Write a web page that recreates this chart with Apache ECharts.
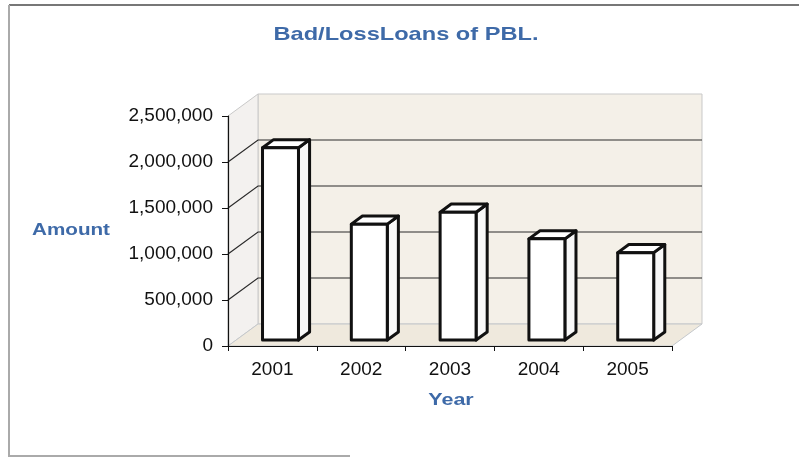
<!DOCTYPE html>
<html>
<head>
<meta charset="utf-8">
<title>Bad/LossLoans of PBL</title>
<script src="https://cdn.jsdelivr.net/npm/echarts@6/dist/echarts.min.js"></script>
<style>
  html, body { margin: 0; padding: 0; background: #ffffff; }
  #chart { width: 799px; height: 457px; }
</style>
</head>
<body>
<div id="chart"></div>
<script>
// Bad / loss loans per year
const years = ['2001', '2002', '2003', '2004', '2005'];
const amounts = [2090000, 1260000, 1390000, 1100000, 950000];

// Value axis range
const yMin = 0;
const yMax = 2500000;
const yStep = 500000;

// Depth of the 3D box (pixel offset of the back plane) and bar placement in depth
const DX = 30, DY = -22;
const F1 = 0.27, F2 = 0.64;
const BAR_RATIO = 0.405;

const chart = echarts.init(document.getElementById('chart'), null, { renderer: 'canvas' });

function wallsRender(params, api) {
  const cs = params.coordSys;
  const gx = cs.x, gy = cs.y, gw = cs.width, gh = cs.height;
  const bottom = gy + gh, right = gx + gw;
  const children = [];
  // back wall
  children.push({
    type: 'polygon',
    shape: { points: [[gx + DX, gy + DY], [right + DX, gy + DY], [right + DX, bottom + DY], [gx + DX, bottom + DY]] },
    style: { fill: '#f4f0e8', stroke: '#c9c9c9', lineWidth: 1 }
  });
  // left side wall
  children.push({
    type: 'polygon',
    shape: { points: [[gx, gy], [gx + DX, gy + DY], [gx + DX, bottom + DY], [gx, bottom]] },
    style: { fill: '#f3f1ef', stroke: '#c9c9c9', lineWidth: 1 }
  });
  // floor
  children.push({
    type: 'polygon',
    shape: { points: [[gx, bottom], [right, bottom], [right + DX, bottom + DY], [gx + DX, bottom + DY]] },
    style: { fill: '#efe9dd', stroke: '#c4c8cc', lineWidth: 1 }
  });
  // gridlines on side and back walls
  for (let v = yMin + yStep; v < yMax; v += yStep) {
    const y = api.coord([0, v])[1];
    children.push({
      type: 'polyline',
      shape: { points: [[gx, y], [gx + DX, y + DY], [right + DX, y + DY]] },
      style: { stroke: '#2a2a2a', lineWidth: 1.2, fill: null }
    });
  }
  return { type: 'group', children: children };
}

function barRender(params, api) {
  const i = api.value(0), v = api.value(1);
  const base = api.coord([i, 0]);
  const top = api.coord([i, v]);
  const band = api.size([1, 0])[0];
  const w = band * BAR_RATIO;
  const ox = F1 * DX, oy = F1 * DY;
  const bx = (F2 - F1) * DX, by = (F2 - F1) * DY;
  const x0 = base[0] - w / 2 + ox, x1 = base[0] + w / 2 + ox;
  const yb = base[1] + oy, yt = top[1] + oy;
  const edge = { stroke: '#111111', lineWidth: 3, lineJoin: 'round' };
  return {
    type: 'group',
    children: [
      { type: 'polygon', shape: { points: [[x1, yt], [x1 + bx, yt + by], [x1 + bx, yb + by], [x1, yb]] },
        style: Object.assign({ fill: '#f8f8f8' }, edge) },
      { type: 'polygon', shape: { points: [[x0, yt], [x0 + bx, yt + by], [x1 + bx, yt + by], [x1, yt]] },
        style: Object.assign({ fill: '#ffffff' }, edge) },
      { type: 'polygon', shape: { points: [[x0, yt], [x1, yt], [x1, yb], [x0, yb]] },
        style: Object.assign({ fill: '#ffffff' }, edge) }
    ]
  };
}

const option = {
  backgroundColor: '#ffffff',
  animation: false,
  grid: { left: 228, right: 127, top: 116, bottom: 111 },
  xAxis: {
    type: 'category',
    data: years,
    z: 10,
    axisLine: { show: true, lineStyle: { color: '#111', width: 1.2 } },
    axisTick: { show: true, length: 5, lineStyle: { color: '#111' } },
    axisLabel: { color: '#111', fontFamily: 'Liberation Sans, Arial, sans-serif', fontSize: 19, margin: 14 },
    splitLine: { show: false }
  },
  yAxis: {
    type: 'value',
    min: yMin,
    max: yMax,
    interval: yStep,
    z: 10,
    axisLine: { show: true, lineStyle: { color: '#111', width: 1.2 } },
    axisTick: { show: true, length: 6, lineStyle: { color: '#111' } },
    axisLabel: {
      color: '#111', fontFamily: 'Liberation Sans, Arial, sans-serif', fontSize: 19, margin: 15,
      formatter: function (v) { return v.toLocaleString('en-US'); }
    },
    splitLine: { show: false }
  },
  series: [
    { type: 'custom', name: 'walls', z: 1, clip: false, silent: true, data: [[0, 0]], renderItem: wallsRender },
    { type: 'custom', name: 'Amount', z: 3, clip: false, data: years.map(function (y, i) { return [i, amounts[i]]; }), renderItem: barRender }
  ],
  graphic: [
    // outer frame
    { type: 'polyline', shape: { points: [[9, 5], [799, 5]] }, style: { stroke: '#777', lineWidth: 2 } },
    { type: 'polyline', shape: { points: [[9, 5], [9, 456], [350, 456]] }, style: { stroke: '#aaa', lineWidth: 2, fill: null } },
    // title and axis names
    { type: 'text', x: 406, y: 35, scaleX: 1.27,
      style: { text: 'Bad/LossLoans of PBL.', align: 'center', verticalAlign: 'middle',
               font: 'bold 18.6px "Liberation Sans", Arial, sans-serif', fill: '#3e6aa8' } },
    { type: 'text', x: 71, y: 230, scaleX: 1.23,
      style: { text: 'Amount', align: 'center', verticalAlign: 'middle',
               font: 'bold 16.8px "Liberation Sans", Arial, sans-serif', fill: '#3e6aa8' } },
    { type: 'text', x: 451, y: 400, scaleX: 1.28,
      style: { text: 'Year', align: 'center', verticalAlign: 'middle',
               font: 'bold 16.8px "Liberation Sans", Arial, sans-serif', fill: '#3e6aa8' } }
  ]
};

chart.setOption(option);
</script>
</body>
</html>
